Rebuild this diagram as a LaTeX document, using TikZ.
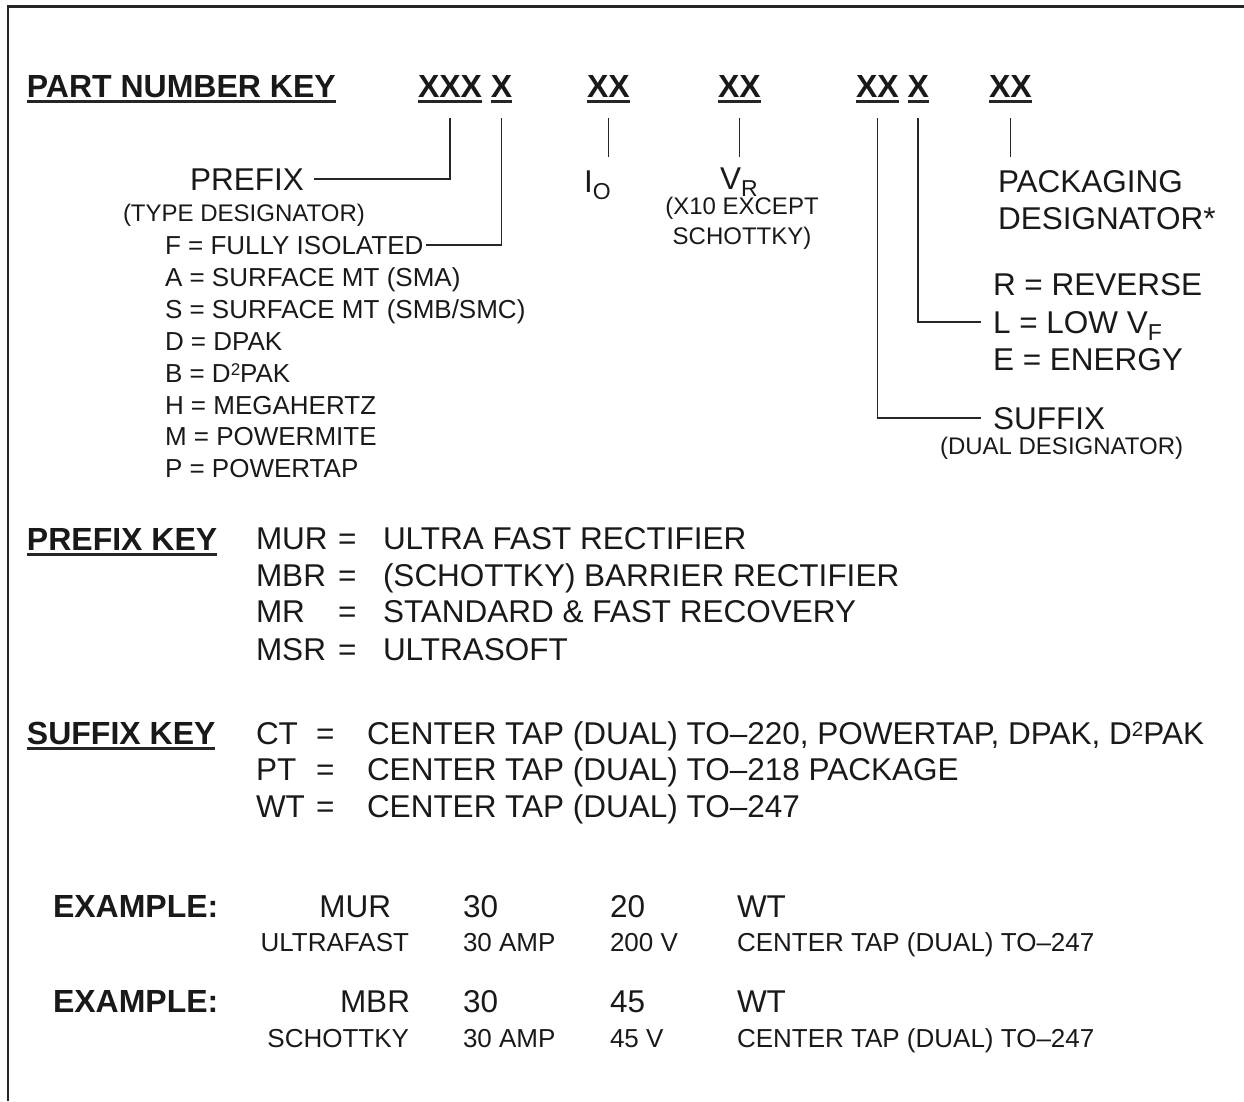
\documentclass[tikz,border=0pt]{standalone}
\usepackage{fontspec}
\setmainfont{Liberation Sans}
\newcommand\mysub[1]{\raisebox{-7pt}{\fontsize{23}{23}\selectfont #1}}
\newcommand\myshift[3]{\raisebox{#1}{\fontsize{#2}{#2}\selectfont #3}}
\begin{document}
\begin{tikzpicture}[x=1pt,y=-1pt,
  lbl/.style={anchor=base west,inner sep=0pt,outer sep=0pt,text=black!90},
  big/.style={lbl,font=\fontsize{31.5}{36}\selectfont},
  hd/.style={lbl,font=\fontsize{32}{36}\selectfont\bfseries},
  med/.style={lbl,font=\fontsize{26}{30}\selectfont},
  sml/.style={lbl,font=\fontsize{24}{28}\selectfont},
  conn/.style={line width=1.6pt,black!85},
  ul/.style={line width=2.2pt,black!85}]

\useasboundingbox (0,0) rectangle (1244,1101);
\draw[line width=2.8pt,black!85] (8,1101) -- (8,6.5) -- (1244,6.5);

% ---- title row
\node[hd] (pnk) at (27,97) {PART NUMBER KEY};
\node[hd] (xxx) at (418,97) {XXX};
\node[hd] (xa)  at (490.9,97) {X};
\node[hd] (io)  at (587,97) {XX};
\node[hd] (vr)  at (718,97) {XX};
\node[hd] (sxx) at (856,97) {XX};
\node[hd] (sx)  at (907.5,97) {X};
\node[hd] (pk)  at (989,97) {XX};
\foreach \n in {pnk,xxx,xa,io,vr,sxx,sx,pk}
  \draw[ul] ([yshift=-4.5pt]\n.base west) -- ([yshift=-4.5pt]\n.base east);

% ---- prefix side
\node[big] (prefix) at (190,190) {PREFIX};
\node[sml] (type) at (123,221) {(TYPE DESIGNATOR)};
\node[med] (iso) at (165,254.5) {F = FULLY ISOLATED};
\node[med] (sma) at (165,286.4) {A = SURFACE MT (SMA)};
\node[med] (smb) at (165,318.3) {S = SURFACE MT (SMB/SMC)};
\node[med] (dpak) at (165,350.2) {D = DPAK};
\node[med] (d2pak) at (165,382.1) {B = D\myshift{6.5pt}{17}{2}PAK};
\node[med] (mhz) at (165,414) {H = MEGAHERTZ};
\node[med] (pmite) at (165,445.9) {M = POWERMITE};
\node[med] (ptap) at (165,477.8) {P = POWERTAP};

% ---- IO / VR
\node[big] (iolbl) at (584,192) {I\mysub{O}};
\node[big] (vrlbl) at (720,189) {V\mysub{R}};
\node[sml,anchor=base] (x10) at (742,214) {(X10 EXCEPT};
\node[sml,anchor=base] (schk) at (742,244) {SCHOTTKY)};

% ---- right side
\node[big] (pack) at (998,192) {PACKAGING};
\node[big] (desig) at (998,229) {DESIGNATOR*};
\node[big] (rev) at (993,295) {R = REVERSE};
\node[big] (lowv) at (993,333) {L = LOW V\mysub{F}};
\node[big] (energy) at (993,370) {E = ENERGY};
\node[big] (suffix) at (993,429) {SUFFIX};
\node[sml] (dual) at (940,454) {(DUAL DESIGNATOR)};

% ---- connectors
\draw[conn] ([yshift=-21pt]xxx.base) |- ([xshift=10pt,yshift=11pt]prefix.base east);
\draw[conn] ([yshift=-21pt]xa.base) |- ([xshift=3pt,yshift=9.5pt]iso.base east);
\draw[conn] ([yshift=-21pt]io.base) -- ([yshift=-60pt]io.base);
\draw[conn] ([yshift=-21pt]vr.base) -- ([yshift=-60pt]vr.base);
\draw[conn] ([yshift=-21pt]pk.base) -- ([yshift=-60pt]pk.base);
\draw[conn] ([yshift=-21pt]sx.base) |- ([xshift=-12pt,yshift=11.3pt]lowv.base west);
\draw[conn] ([yshift=-21pt]sxx.base) |- ([xshift=-12pt,yshift=11.3pt]suffix.base west);

% ---- prefix key
\node[hd] (pkey) at (27,550) {PREFIX KEY};
\draw[ul] ([yshift=-4.5pt]pkey.base west) -- ([yshift=-4.5pt]pkey.base east);
\node[big] (c1) at (256,549) {MUR};  \node[big] (e1) at (338,549) {=}; \node[big] (d1) at (383,549) {ULTRA FAST RECTIFIER};
\node[big] (c2) at (256,586) {MBR};  \node[big] (e2) at (338,586) {=}; \node[big] (d2) at (383,586) {(SCHOTTKY) BARRIER RECTIFIER};
\node[big] (c3) at (256,622) {MR};   \node[big] (e3) at (338,622) {=}; \node[big] (d3) at (383,622) {STANDARD \& FAST RECOVERY};
\node[big] (c4) at (256,660) {MSR};  \node[big] (e4) at (338,660) {=}; \node[big] (d4) at (383,660) {ULTRASOFT};

% ---- suffix key
\node[hd] (skey) at (27,744) {SUFFIX KEY};
\draw[ul] ([yshift=-4.5pt]skey.base west) -- ([yshift=-4.5pt]skey.base east);
\node[big] (s1) at (256,744) {CT}; \node[big] (f1) at (316,744) {=}; \node[big] (g1) at (367,744) {CENTER TAP (DUAL) TO–220, POWERTAP, DPAK, D\myshift{8pt}{20.5}{2}PAK};
\node[big] (s2) at (256,780) {PT}; \node[big] (f2) at (316,780) {=}; \node[big] (g2) at (367,780) {CENTER TAP (DUAL) TO–218 PACKAGE};
\node[big] (s3) at (256,817) {WT}; \node[big] (f3) at (316,817) {=}; \node[big] (g3) at (367,817) {CENTER TAP (DUAL) TO–247};

% ---- examples
\node[hd] (ex1) at (53,917) {EXAMPLE:};
\node[big,anchor=base east] (ex1a) at (391,917) {MUR};
\node[big] (ex1b) at (463,917) {30};
\node[big] (ex1c) at (610,917) {20};
\node[big] (ex1d) at (737,917) {WT};
\node[med,anchor=base east] (ex1e) at (409,951) {ULTRAFAST};
\node[med] (ex1f) at (463,951) {30 AMP};
\node[med] (ex1g) at (610,951) {200 V};
\node[med] (ex1h) at (737,951) {CENTER TAP (DUAL) TO–247};

\node[hd] (ex2) at (53,1012) {EXAMPLE:};
\node[big,anchor=base east] (ex2a) at (410,1012) {MBR};
\node[big] (ex2b) at (463,1012) {30};
\node[big] (ex2c) at (610,1012) {45};
\node[big] (ex2d) at (737,1012) {WT};
\node[med,anchor=base east] (ex2e) at (409,1047) {SCHOTTKY};
\node[med] (ex2f) at (463,1047) {30 AMP};
\node[med] (ex2g) at (610,1047) {45 V};
\node[med] (ex2h) at (737,1047) {CENTER TAP (DUAL) TO–247};
\end{tikzpicture}
\end{document}
